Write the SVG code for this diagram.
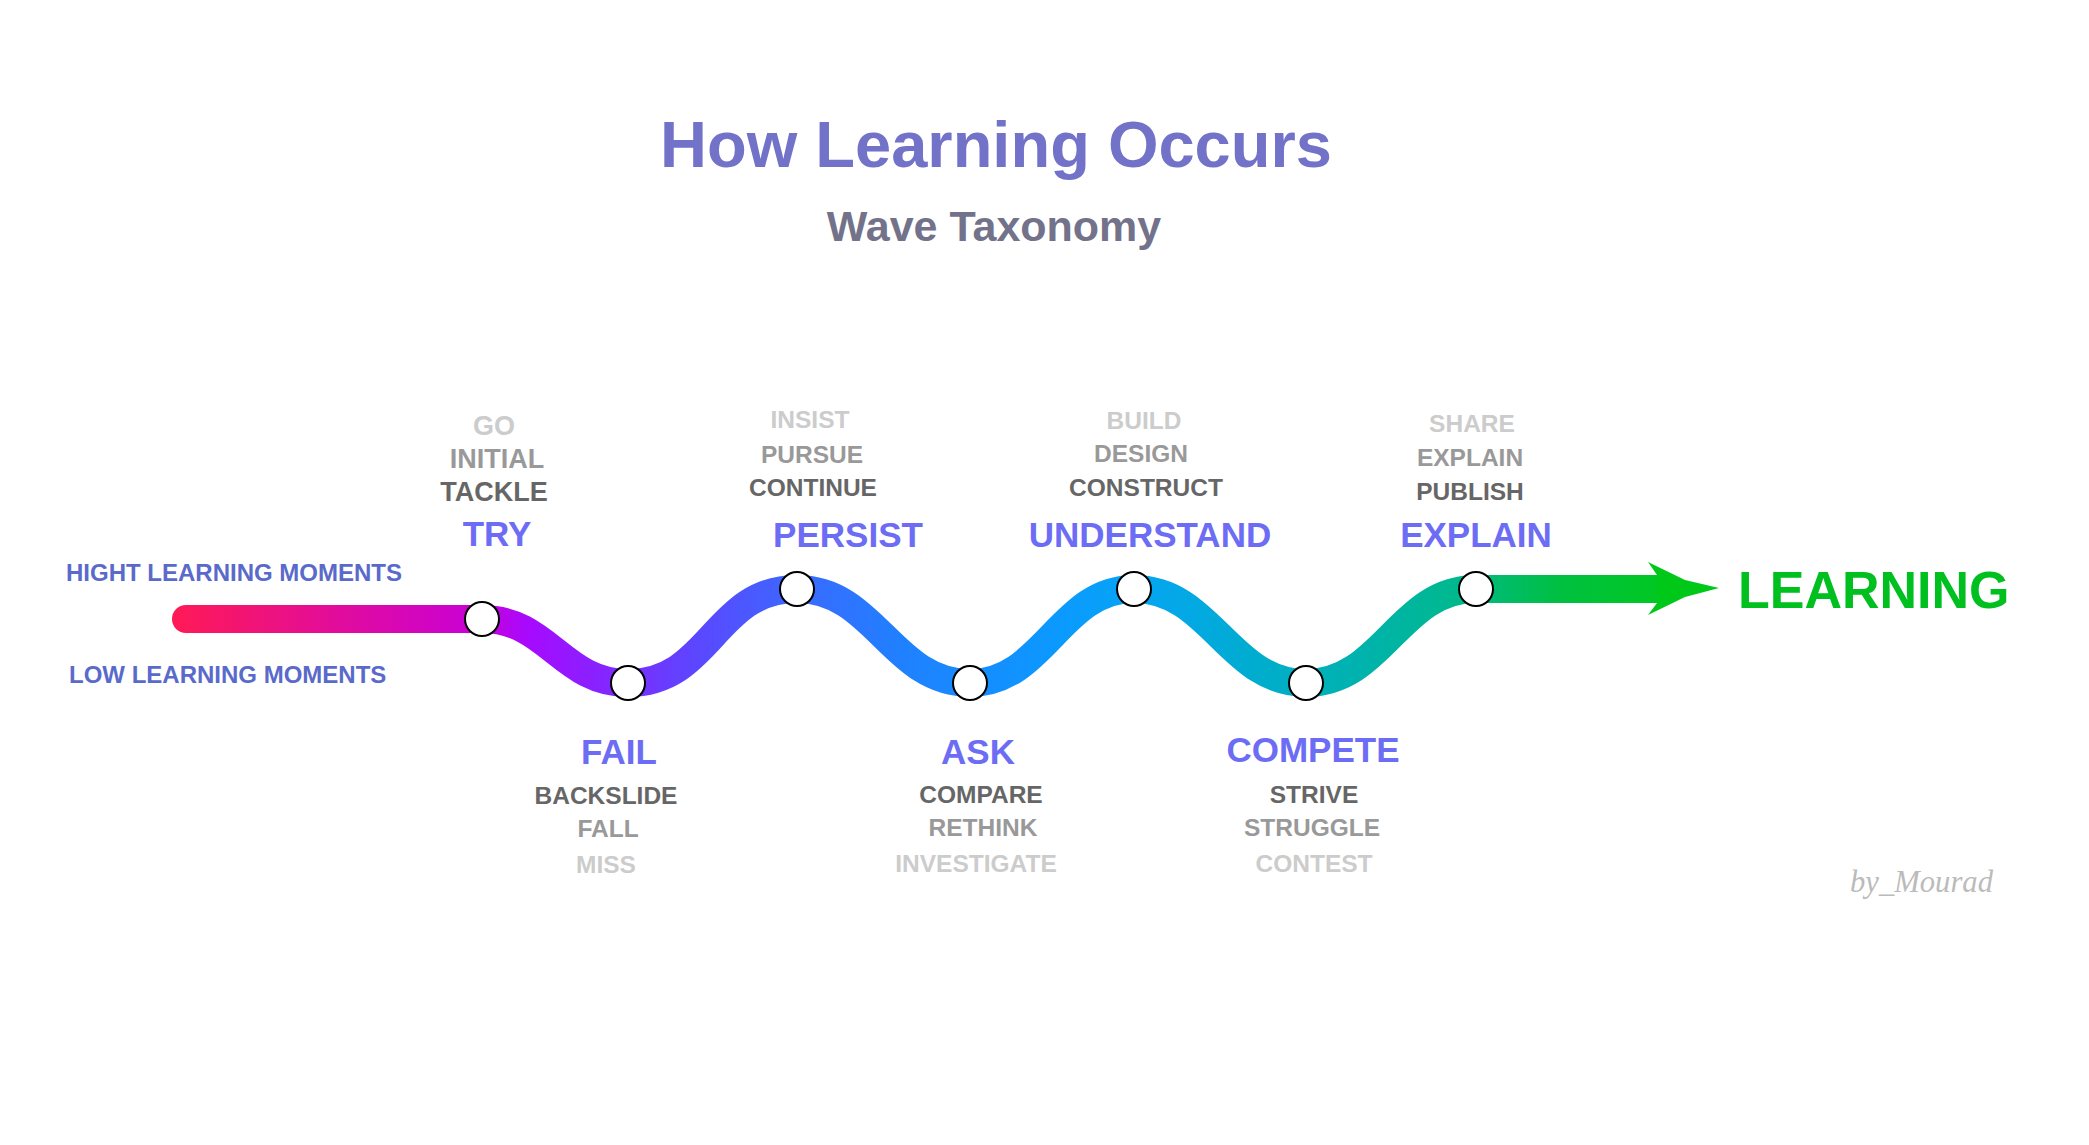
<svg xmlns="http://www.w3.org/2000/svg" width="2089" height="1145" viewBox="0 0 2089 1145">
<style>
text{font-family:"Liberation Sans",Arial,sans-serif;font-weight:bold;text-anchor:middle}
.title{font-size:65px;fill:#7272C9}
.sub{font-size:43px;fill:#72728A}
.side{font-size:24px;fill:#5A6ACB;text-anchor:start}
.main{font-size:35px;fill:#6C6CF5}
.w{font-size:24.5px}
.w27{font-size:27px}
.l1{fill:#CCCCCC}
.l2{fill:#999999}
.l3{fill:#666666}
.goal{font-size:52px;fill:#00C020;text-anchor:start}
.sig{font-family:"Liberation Serif","DejaVu Serif",serif;font-style:italic;font-weight:normal;font-size:32px;fill:#BBBBBB;text-anchor:start}
.node{fill:#FFFFFF;stroke:#000000;stroke-width:2}
</style>
<defs>
<linearGradient id="wave" gradientUnits="userSpaceOnUse" x1="172" y1="0" x2="1720" y2="0">
<stop offset="0" stop-color="#FF1A55"/>
<stop offset="0.199" stop-color="#C800D8"/>
<stop offset="0.231" stop-color="#A60AFF"/>
<stop offset="0.341" stop-color="#5A48FF"/>
<stop offset="0.406" stop-color="#3A6AFF"/>
<stop offset="0.470" stop-color="#2080FF"/>
<stop offset="0.567" stop-color="#0C98FF"/>
<stop offset="0.621" stop-color="#05A5F5"/>
<stop offset="0.696" stop-color="#00ACD0"/>
<stop offset="0.761" stop-color="#00B2B0"/>
<stop offset="0.826" stop-color="#00B890"/>
<stop offset="0.897" stop-color="#00C040"/>
<stop offset="1" stop-color="#00CC10"/>
</linearGradient>
</defs>
<rect width="2089" height="1145" fill="#FFFFFF"/>
<g id="title">
<text class="title" x="996" y="167">How Learning Occurs</text>
<text class="sub" x="994" y="241">Wave Taxonomy</text>
</g>
<g id="side-labels">
<text class="side" x="66" y="581">HIGHT LEARNING MOMENTS</text>
<text class="side" x="69" y="683">LOW LEARNING MOMENTS</text>
</g>
<g id="connectors">
<path d="M186,619 L482,619 C548,619 562,683 628,683 C711,683 714,589 797,589 C875,589 892,683 970,683 C1044,683 1060,589 1134,589 C1211,589 1229,683 1306,683 C1383,683 1399,589 1476,589 L1660,589" fill="none" stroke="url(#wave)" stroke-width="28" stroke-linecap="round"/>
<polygon points="1657,575 1648,562 1685,580 1719,588 1685,597 1648,615 1657,603" fill="#00C818"/>
</g>
<g id="node-try">
<circle class="node" cx="482" cy="619" r="17"/>
<text class="w27 l1" x="494" y="435">GO</text>
<text class="w27 l2" x="497" y="468">INITIAL</text>
<text class="w27 l3" x="494" y="501">TACKLE</text>
<text class="main" x="497" y="546">TRY</text>
</g>
<g id="node-fail">
<circle class="node" cx="628" cy="683" r="17"/>
<text class="main" x="619" y="764">FAIL</text>
<text class="w l3" x="606" y="804">BACKSLIDE</text>
<text class="w l2" x="608" y="837">FALL</text>
<text class="w l1" x="606" y="873">MISS</text>
</g>
<g id="node-persist">
<circle class="node" cx="797" cy="589" r="17"/>
<text class="w l1" x="810" y="428">INSIST</text>
<text class="w l2" x="812" y="463">PURSUE</text>
<text class="w l3" x="813" y="496">CONTINUE</text>
<text class="main" x="848" y="547">PERSIST</text>
</g>
<g id="node-ask">
<circle class="node" cx="970" cy="683" r="17"/>
<text class="main" x="978" y="764">ASK</text>
<text class="w l3" x="981" y="803">COMPARE</text>
<text class="w l2" x="983" y="836">RETHINK</text>
<text class="w l1" x="976" y="872">INVESTIGATE</text>
</g>
<g id="node-understand">
<circle class="node" cx="1134" cy="589" r="17"/>
<text class="w l1" x="1144" y="429">BUILD</text>
<text class="w l2" x="1141" y="462">DESIGN</text>
<text class="w l3" x="1146" y="496">CONSTRUCT</text>
<text class="main" x="1150" y="547">UNDERSTAND</text>
</g>
<g id="node-compete">
<circle class="node" cx="1306" cy="683" r="17"/>
<text class="main" x="1313" y="762">COMPETE</text>
<text class="w l3" x="1314" y="803">STRIVE</text>
<text class="w l2" x="1312" y="836">STRUGGLE</text>
<text class="w l1" x="1314" y="872">CONTEST</text>
</g>
<g id="node-explain">
<circle class="node" cx="1476" cy="589" r="17"/>
<text class="w l1" x="1472" y="432">SHARE</text>
<text class="w l2" x="1470" y="466">EXPLAIN</text>
<text class="w l3" x="1470" y="500">PUBLISH</text>
<text class="main" x="1476" y="547">EXPLAIN</text>
</g>
<g id="node-learning">
<text class="goal" x="1738" y="608">LEARNING</text>
</g>
<g id="signature">
<text class="sig" x="1850" y="892" textLength="143" lengthAdjust="spacingAndGlyphs">by_Mourad</text>
</g>
</svg>
